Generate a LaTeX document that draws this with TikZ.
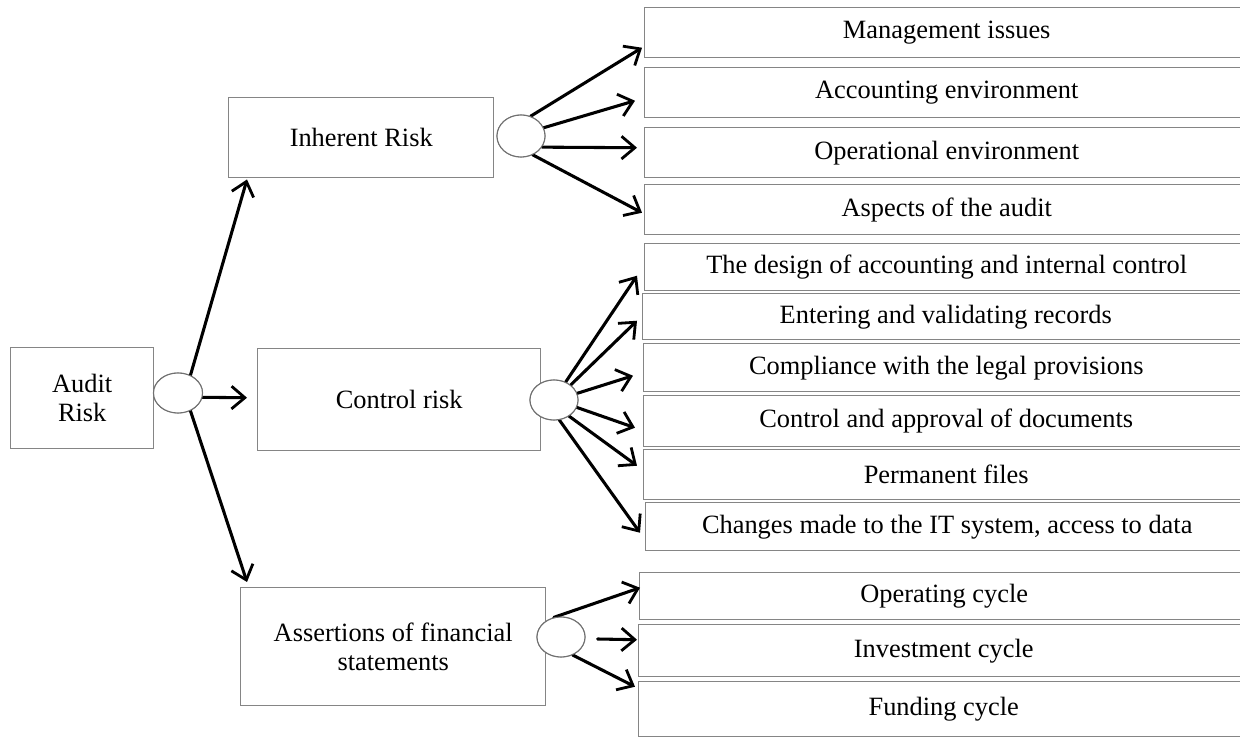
\documentclass[tikz,border=0pt]{standalone}
\usepackage{fontspec}
\setmainfont{Liberation Serif}
\usetikzlibrary{arrows.meta,shapes.geometric}
\definecolor{boxgray}{HTML}{858585}
\definecolor{hubgray}{HTML}{707070}
\newcommand\boxfont{\fontsize{19.8pt}{22pt}\selectfont}
\begin{document}
\begin{tikzpicture}[x=0.75pt,y=-0.75pt,
  box/.style={draw=boxgray, line width=1.1pt, inner sep=0pt, anchor=north west,
    align=center, font=\boxfont, fill=white},
  size/.style 2 args={minimum width=#1*0.75pt, minimum height=#2*0.75pt},
  hub/.style={ellipse, draw=hubgray, line width=0.8pt, fill=white, inner sep=0pt,
    minimum width=48*0.75pt, minimum height=40*0.75pt},
  link/.style={line width=2.3pt, line cap=round,
    -{Straight Barb[length=10pt,width=17pt,line width=2.1pt]}}]
\useasboundingbox (0,0) rectangle (1240,737);
\clip (0,0) rectangle (1240,737);

% main branches
\node[box, size={143}{101}] (audit) at (10,347) {Audit\\Risk};
\node[box, size={265}{80}]  (inh)   at (228,97) {Inherent Risk};
\node[box, size={283}{102}] (ctl)   at (257,348) {Control risk};
\node[box, size={305}{118}] (ass)   at (240,587) {Assertions of financial\\statements};

% factor boxes (they run past the right edge)
\node[box, size={604}{50}] (r1)  at (644,7)   {Management issues};
\node[box, size={604}{50}] (r2)  at (644,67)  {Accounting environment};
\node[box, size={604}{50}] (r3)  at (644,127) {Operational environment};
\node[box, size={604}{50}] (r4)  at (644,184) {Aspects of the audit};
\node[box, size={604}{47}] (r5)  at (644,243) {The design of accounting and internal control};
\node[box, size={606}{46}] (r6)  at (642,293) {Entering and validating records};
\node[box, size={605}{48}] (r7)  at (643,343) {Compliance with the legal provisions};
\node[box, size={605}{51}] (r8)  at (643,395) {Control and approval of documents};
\node[box, size={605}{50}] (r9)  at (643,449) {Permanent files};
\node[box, size={603}{48}] (r10) at (645,502) {Changes made to the IT system, access to data};
\node[box, size={609}{47}] (r11) at (639,572) {Operating cycle};
\node[box, size={610}{52}] (r12) at (638,624) {Investment cycle};
\node[box, size={610}{55}] (r13) at (638,681) {Funding cycle};

% junction ellipses
\node[hub, minimum width=49*0.75pt] (e0) at (178,393) {};
\node[hub, minimum height=42*0.75pt] (e1) at (521,136) {};
\node[hub] (e2) at (554,400) {};
\node[hub] (e3) at (561,637) {};

% connectors
\draw[link] (e0.55)  -- ([shift={(19,1)}]inh.south west);
\draw[link] (e0.-10) -- ([shift={(-10,-2)}]ctl.west);
\draw[link] (e0.-55) -- ([shift={(7,-5)}]ass.north west);

\draw[link] (e1.64)  -- ([shift={(-2,15)}]r1.west);
\draw[link] (e1.20)  -- ([shift={(-9,8)}]r2.west);
\draw[link] (e1.-28) -- ([shift={(-7,-5)}]r3.west);
\draw[link] (e1.-58) -- ([shift={(-2,3)}]r4.west);

\draw[link] (e2.57)  -- ([shift={(-7,8.5)}]r5.west);
\draw[link] (e2.42)  -- ([shift={(-5,4)}]r6.west);
\draw[link] (e2.16)  -- ([shift={(-10,8)}]r7.west);
\draw[link] (e2.-18) -- ([shift={(-8,6.5)}]r8.west);
\draw[link] (e2.-47) -- ([shift={(-6,-9)}]r9.west);
\draw[link] (e2.-75) -- ([shift={(-5,6)}]r10.west);

\draw[link] (e3.110) -- ([shift={(1,-8.5)}]r11.west);
\draw[link] ([shift={(12,2)}]e3.east) -- ([shift={(-1,-11)}]r12.west);
\draw[link] (e3.-57) -- ([shift={(-3,-22.5)}]r13.west);

% redraw hubs over the connector starts
\node[hub, minimum width=49*0.75pt] at (e0) {};
\node[hub, minimum height=42*0.75pt] at (e1) {};
\node[hub] at (e2) {};
\node[hub] at (e3) {};
\end{tikzpicture}
\end{document}
